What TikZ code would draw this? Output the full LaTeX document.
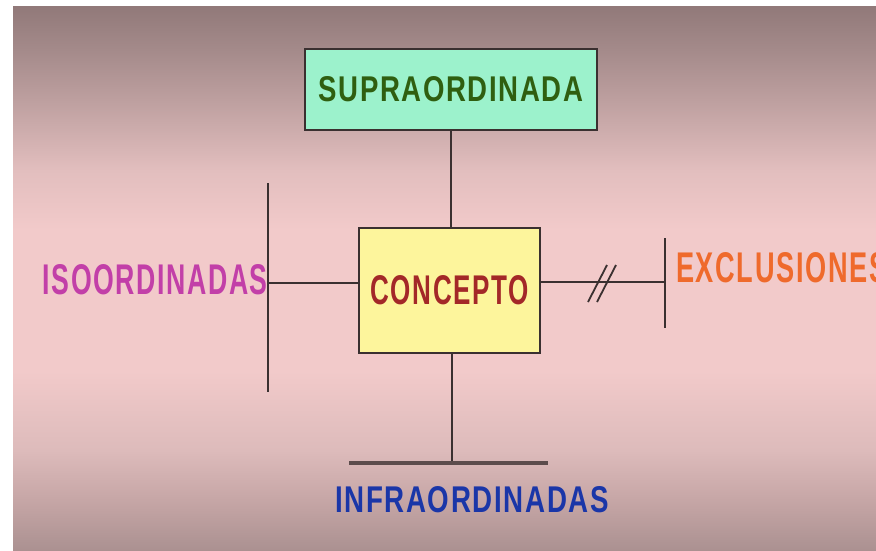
\documentclass[tikz,border=0pt]{standalone}
\usepackage{fontspec}
\setmainfont{Liberation Sans}
\usepackage{graphicx}
\usetikzlibrary{positioning}

\definecolor{lineGray}{HTML}{3A3030}
\definecolor{barGray}{HTML}{5C4C4C}
\definecolor{supraFill}{HTML}{9CF2CC}
\definecolor{conceptoFill}{HTML}{FDF59C}
\definecolor{supraText}{HTML}{2F5F10}
\definecolor{conceptoText}{HTML}{A32828}
\definecolor{isoText}{HTML}{C23FA8}
\definecolor{exclText}{HTML}{EF6A2C}
\definecolor{infraText}{HTML}{1A36A8}

% pink band, darker at top and bottom (25bp = bottom, 75bp = top)
\pgfdeclareverticalshading{bgShade}{100bp}{
  color(0bp)=(rgb,255:red,171;green,145;blue,145);
  color(25bp)=(rgb,255:red,171;green,145;blue,145);
  color(29.6bp)=(rgb,255:red,198;green,166;blue,166);
  color(34.2bp)=(rgb,255:red,221;green,187;blue,187);
  color(41.5bp)=(rgb,255:red,242;green,202;blue,202);
  color(54.4bp)=(rgb,255:red,242;green,202;blue,202);
  color(59.9bp)=(rgb,255:red,226;green,190;blue,190);
  color(66.4bp)=(rgb,255:red,189;green,159;blue,159);
  color(71bp)=(rgb,255:red,164;green,138;blue,138);
  color(75bp)=(rgb,255:red,145;green,121;blue,121);
  color(100bp)=(rgb,255:red,145;green,121;blue,121)}

% text squeezed to the width and cap height it has in the picture
\newcommand{\caps}[3]{\resizebox{#1pt}{#2pt}{\bfseries\addfontfeature{LetterSpace=6}#3}}

\tikzset{
  box/.style={draw=lineGray, line width=2.5pt, rectangle, inner sep=0pt},
  link/.style={draw=lineGray, line width=2pt},
  bar/.style={draw=barGray, line width=4pt},
  label/.style={inner sep=0pt}
}

\begin{document}
\begin{tikzpicture}[x=1pt,y=-1pt]
    % Background
    \useasboundingbox (0,0) rectangle (876,550);
    \fill[white] (0,0) rectangle (876,550);
    \shade[shading=bgShade] (13,6) rectangle (876,550);

    % Boxes
    \node[box, fill=supraFill, minimum width=292pt, minimum height=81pt] (supra) at (451,89.5)
        {\color{supraText}\caps{265}{25}{SUPRAORDINADA}};
    \node[box, fill=conceptoFill, minimum width=181pt, minimum height=125pt] (concepto) at (449.5,290.5)
        {\color{conceptoText}\caps{158}{29}{CONCEPTO}};

    % Bar ends
    \coordinate (isoTop) at (268,183);
    \coordinate (isoBot) at (268,392);
    \coordinate (isoMid) at (268,283);
    \coordinate (exclTop) at (665,238);
    \coordinate (exclBot) at (665,328);
    \coordinate (exclMid) at (665,282);
    \coordinate (infraL) at (349,463);
    \coordinate (infraR) at (548,463);
    \coordinate (infraMid) at (452,463);

    % Connectors
    \draw[link] (supra) -- (supra |- concepto.north);
    \draw[link] (isoTop) -- (isoBot);
    \draw[link] (isoMid) -- (isoMid -| concepto.west);
    \draw[link] (exclTop) -- (exclBot);
    \draw[link] (exclMid -| concepto.east) -- (exclMid);
    \foreach \s in {588,597}
        \draw[link, line width=1.8pt] (\s,302) -- (\s+19,265);
    \draw[link] (infraMid |- concepto.south) -- (infraMid);
    \draw[bar] (infraL) -- (infraR);

    % Labels
    \node[label, anchor=east, text=isoText] (iso) at (268,280) {\caps{225}{30}{ISOORDINADAS}};
    \node[label, anchor=west, text=exclText] (excl) at (676,268) {\caps{211}{30}{EXCLUSIONES}};
    \node[label, text=infraText] (infra) at (472,500) {\caps{274}{26}{INFRAORDINADAS}};
\end{tikzpicture}
\end{document}
